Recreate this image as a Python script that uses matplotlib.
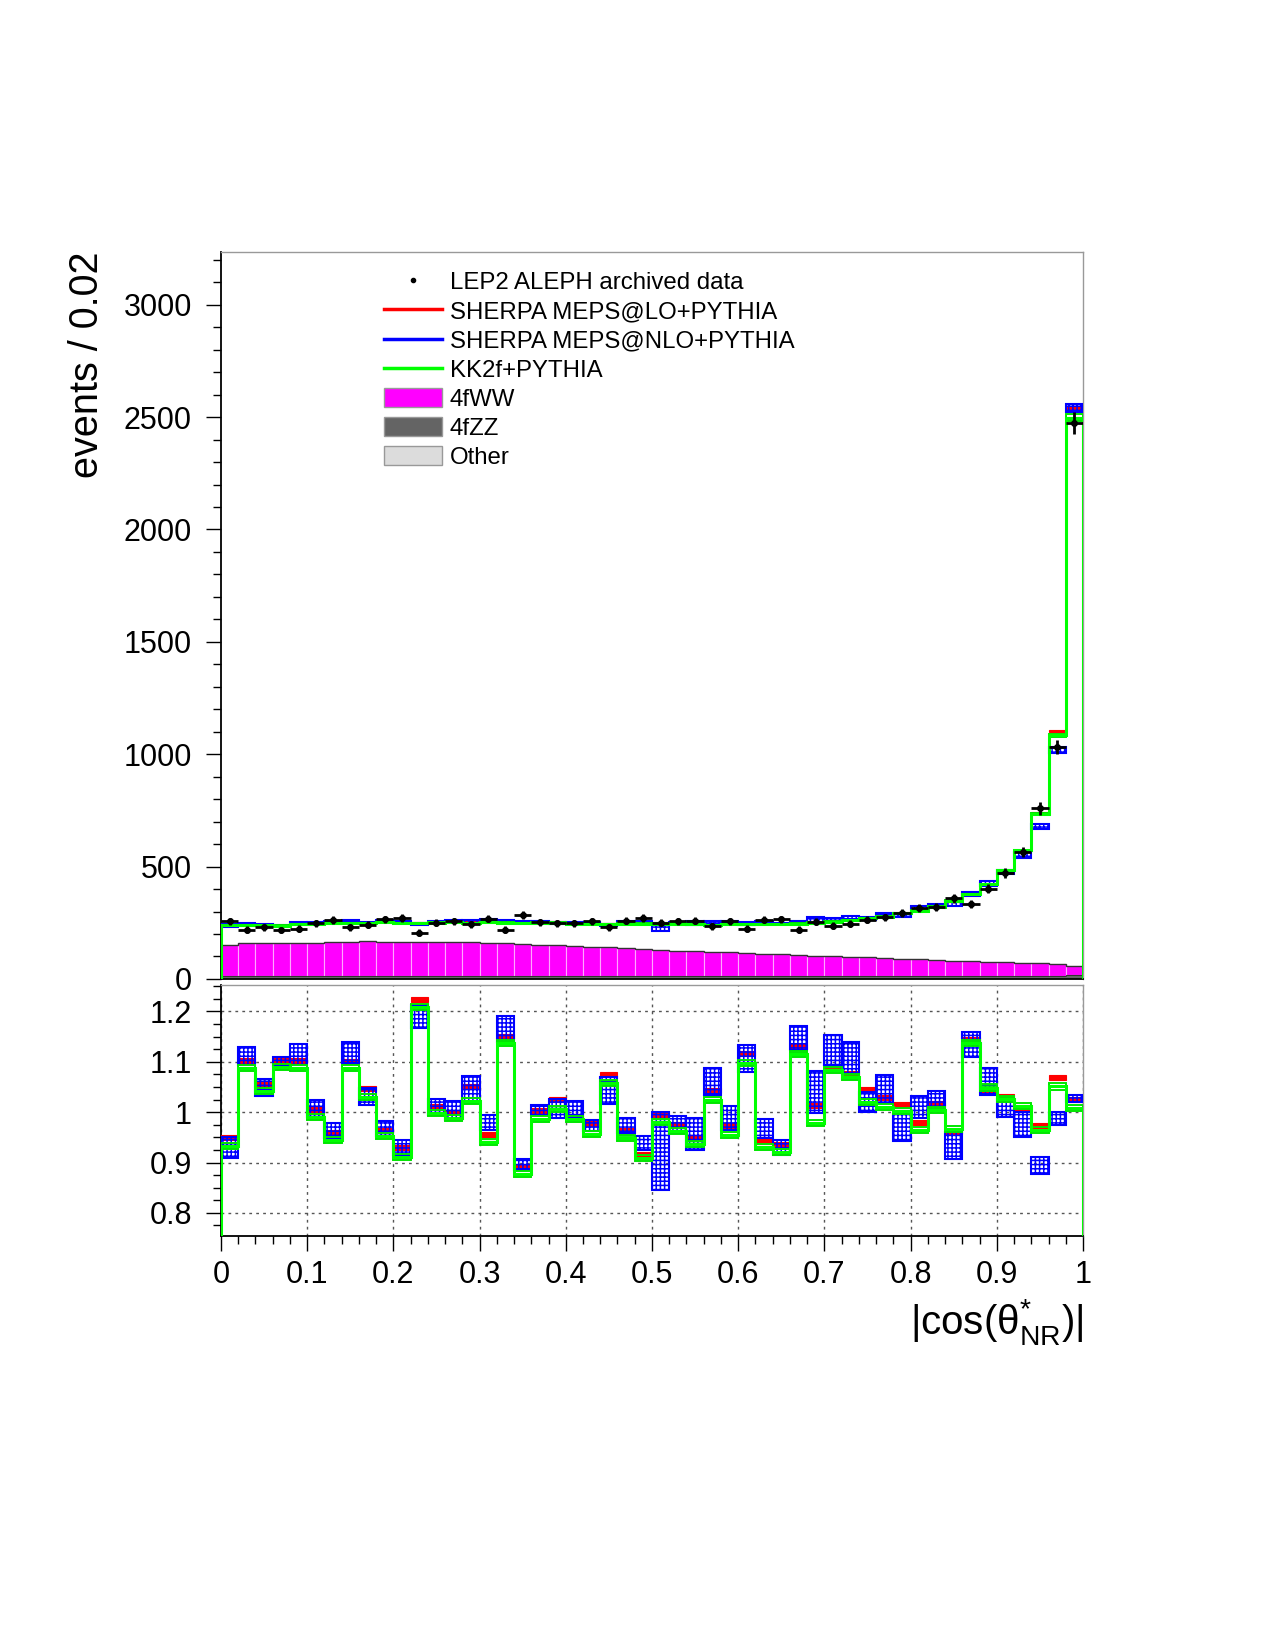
import numpy as np
import matplotlib
matplotlib.use("Agg")
import matplotlib.pyplot as plt
from matplotlib.lines import Line2D
from matplotlib.patches import Patch
from matplotlib.ticker import MultipleLocator

plt.rcParams['font.family'] = ['Liberation Sans', 'DejaVu Sans']
plt.rcParams['mathtext.fontset'] = 'custom'
plt.rcParams['mathtext.rm'] = 'Liberation Sans'
plt.rcParams['mathtext.it'] = 'Liberation Sans'
plt.rcParams['mathtext.default'] = 'regular'
plt.rcParams['hatch.linewidth'] = 1.1

# === DATA ===
edges = np.linspace(0.0, 1.0, 51)

data = [256, 220, 229, 218, 223, 247, 262, 229, 242, 265,
        272, 206, 250, 256, 244, 268, 220, 284, 253, 248,
        248, 256, 230, 259, 271, 251, 256, 259, 235, 256,
        223, 263, 266, 220, 255, 236, 245, 264, 274, 292,
        314, 319, 359, 332, 402, 470, 565, 759, 1031, 2475]

# MC / data ratios
ratio_lo = [0.950, 1.103, 1.055, 1.102, 1.102, 1.005, 0.960, 1.100, 1.047, 0.963,
            0.929, 1.224, 1.011, 1.000, 1.051, 0.956, 1.150, 0.893, 1.004, 1.026,
            0.991, 0.977, 1.074, 0.964, 0.916, 0.994, 0.975, 0.950, 1.043, 0.973,
            1.117, 0.941, 0.936, 1.130, 1.013, 1.089, 1.077, 1.045, 1.029, 1.015,
            0.979, 1.017, 0.961, 1.144, 1.041, 1.031, 1.007, 0.974, 1.069, 1.025]
ratio_nlo = [0.929, 1.112, 1.049, 1.100, 1.114, 1.007, 0.963, 1.118, 1.032, 0.967,
             0.929, 1.190, 1.010, 1.003, 1.045, 0.979, 1.166, 0.896, 1.004, 1.007,
             1.007, 0.974, 1.043, 0.973, 0.939, 0.923, 0.975, 0.957, 1.061, 0.989,
             1.107, 0.967, 0.929, 1.148, 1.040, 1.124, 1.107, 1.021, 1.046, 0.969,
             1.010, 1.025, 0.934, 1.135, 1.061, 1.009, 0.975, 0.894, 0.987, 1.027]
ratio_nlo_err = [0.021, 0.018, 0.017, 0.009, 0.021, 0.017, 0.015, 0.021, 0.017, 0.015,
                 0.015, 0.023, 0.016, 0.019, 0.027, 0.015, 0.026, 0.011, 0.010, 0.019,
                 0.016, 0.011, 0.027, 0.015, 0.014, 0.077, 0.017, 0.032, 0.027, 0.024,
                 0.027, 0.019, 0.015, 0.024, 0.042, 0.030, 0.032, 0.020, 0.028, 0.027,
                 0.022, 0.018, 0.027, 0.025, 0.027, 0.018, 0.025, 0.017, 0.013, 0.007]
ratio_kk = [0.933, 1.088, 1.043, 1.090, 1.087, 0.991, 0.944, 1.088, 1.031, 0.953,
            0.911, 1.209, 0.999, 0.989, 1.022, 0.940, 1.137, 0.878, 0.987, 1.007,
            0.986, 0.957, 1.057, 0.948, 0.909, 0.981, 0.963, 0.936, 1.024, 0.955,
            1.097, 0.930, 0.921, 1.116, 0.979, 1.083, 1.069, 1.021, 1.010, 1.003,
            0.965, 1.005, 0.967, 1.138, 1.049, 1.027, 1.012, 0.965, 1.051, 1.009]
ratio_lo_err = 0.005
ratio_kk_err = 0.006

# stacked backgrounds
bkg_other = [3] * 49 + [5]
bkg_zz = [8] * 29 + [12] * 20 + [14]
bkg_ww = [141, 147, 147, 147, 150, 151, 153, 154, 157, 154,
          153, 153, 153, 154, 153, 150, 148, 144, 141, 138,
          135, 132, 129, 126, 123, 118, 115, 112, 109, 107,
          101, 98, 95, 92, 89, 86, 84, 81, 78, 75,
          72, 70, 67, 64, 61, 60, 57, 55, 52, 39]

# === DERIVED ===
data = np.array(data, dtype=float)
centers = 0.5 * (edges[:-1] + edges[1:])
width = np.diff(edges)
models = [
    (np.array(ratio_lo), np.full(50, ratio_lo_err), 'red'),
    (np.array(ratio_nlo), np.array(ratio_nlo_err), 'blue'),
    (np.array(ratio_kk), np.full(50, ratio_kk_err), 'green'),
]


def draw_boxes(ax, val, err, kind):
    lo = val - err
    hi = val + err
    if kind == 'red':
        ax.bar(edges[:-1], hi - lo, width=width, bottom=lo, align='edge',
               color='#ff0000', edgecolor='#ff0000', linewidth=0.8, zorder=3)
    elif kind == 'blue':
        ax.bar(edges[:-1], hi - lo, width=width, bottom=lo, align='edge',
               facecolor='none', edgecolor='#0000ff', hatch='++++', linewidth=1.5, zorder=4)
    else:
        ax.bar(edges[:-1], hi - lo, width=width, bottom=lo, align='edge',
               facecolor='none', edgecolor='#00e600', hatch='---', linewidth=1.4, zorder=5)


fig = plt.figure(figsize=(12.75, 16.5), dpi=100)
ax = fig.add_axes([0.1733, 0.4067, 0.6761, 0.4406])
rax = fig.add_axes([0.1733, 0.2509, 0.6761, 0.1521])

# === MAIN PANEL ===
b1 = np.array(bkg_other, dtype=float)
b2 = b1 + np.array(bkg_zz)
b3 = b2 + np.array(bkg_ww)
ax.bar(edges[:-1], b1, width=width, align='edge', color='#dcdcdc',
       edgecolor='#dcdcdc', linewidth=0.5, zorder=1)
ax.bar(edges[:-1], b2 - b1, width=width, bottom=b1, align='edge', color='#646464',
       edgecolor='#646464', linewidth=0.5, zorder=1)
ax.bar(edges[:-1], b3 - b2, width=width, bottom=b2, align='edge', color='#ff00ff',
       edgecolor='#ffa8ff', linewidth=0.8, zorder=1)
ax.stairs(b3, edges, color='#333333', linewidth=1.0, zorder=2)
ax.stairs(b2, edges, color='#333333', linewidth=0.8, zorder=2)

for val, err, kind in models:
    draw_boxes(ax, val * data, err * data, kind)
ax.stairs(np.array(ratio_kk) * data, edges, baseline=0, color='#00ff00',
          linewidth=2.2, zorder=6)

ax.errorbar(centers, data, xerr=width / 2, yerr=np.sqrt(data), fmt='o', color='black',
            ms=4, elinewidth=2.0, capsize=0, zorder=8)

ax.set_xlim(0, 1)
ax.set_ylim(0, 3235)
ax.yaxis.set_major_locator(MultipleLocator(500))
ax.yaxis.set_minor_locator(MultipleLocator(100))
ax.tick_params(axis='y', which='major', direction='out', length=11, width=1,
               labelsize=22, pad=10)
ax.tick_params(axis='y', which='minor', direction='out', length=6, width=1)
ax.tick_params(axis='x', which='both', bottom=False, labelbottom=False)
ax.spines['left'].set_linewidth(1.3)
ax.spines['bottom'].set_linewidth(1.3)
for s in ['top', 'right']:
    ax.spines[s].set_color('#999999')
    ax.spines[s].set_linewidth(1.0)

handles = [
    Line2D([], [], marker='o', ms=3, color='black', linestyle='none'),
    Line2D([], [], color='#ff0000', linewidth=2.5),
    Line2D([], [], color='#0000ff', linewidth=2.5),
    Line2D([], [], color='#00ff00', linewidth=2.5),
    Patch(facecolor='#ff00ff', edgecolor='#999999'),
    Patch(facecolor='#646464', edgecolor='#999999'),
    Patch(facecolor='#dcdcdc', edgecolor='#999999'),
]
labels = ['LEP2 ALEPH archived data', 'SHERPA MEPS@LO+PYTHIA', 'SHERPA MEPS@NLO+PYTHIA',
          'KK2f+PYTHIA', '4fWW', '4fZZ', 'Other']
ax.legend(handles, labels, loc='upper left', bbox_to_anchor=(0.3012, 0.8355),
          bbox_transform=fig.transFigure, frameon=False, fontsize=17.3,
          handlelength=2.41, handleheight=0.87, handletextpad=0.33,
          labelspacing=0.25, borderpad=0, borderaxespad=0)

fig.text(87 / 1275, 1 - 252 / 1650, 'events / 0.02', rotation=90, ha='center', va='top',
         fontsize=28.5)

# === RATIO PANEL ===
for val, err, kind in models:
    draw_boxes(rax, val, err, kind)
rax.stairs(np.array(ratio_kk), edges, baseline=0.5, color='#00ff00', linewidth=2.2,
           zorder=6)

rax.set_xlim(0, 1)
rax.set_ylim(0.754, 1.2525)
rax.xaxis.set_major_locator(MultipleLocator(0.1))
rax.xaxis.set_minor_locator(MultipleLocator(0.02))
rax.yaxis.set_major_locator(MultipleLocator(0.1))
rax.yaxis.set_minor_locator(MultipleLocator(0.025))
rax.set_xticks(np.arange(0, 1.01, 0.1))
rax.set_xticklabels(['0', '0.1', '0.2', '0.3', '0.4', '0.5', '0.6', '0.7', '0.8', '0.9', '1'])
rax.set_yticks([0.8, 0.9, 1.0, 1.1, 1.2])
rax.set_yticklabels(['0.8', '0.9', '1', '1.1', '1.2'])
rax.grid(True, which='major', color='#555555', linestyle=(0, (2, 3)), linewidth=1.0)
rax.tick_params(axis='both', which='major', direction='out', length=11, width=1,
                labelsize=22)
rax.tick_params(axis='y', which='major', pad=10)
rax.tick_params(axis='x', which='major', pad=6)
rax.tick_params(axis='both', which='minor', direction='out', length=6, width=1)
rax.spines['left'].set_linewidth(1.3)
rax.spines['bottom'].set_linewidth(1.3)
for s in ['top', 'right']:
    rax.spines[s].set_color('#999999')
    rax.spines[s].set_linewidth(1.0)
rax.set_axisbelow(True)

fig.text(1083 / 1275, 1 - 1322 / 1650, r'$|cos(\theta^{*}_{NR})|$', ha='right',
         va='center', fontsize=29)

fig.savefig('out.png', dpi=100)
